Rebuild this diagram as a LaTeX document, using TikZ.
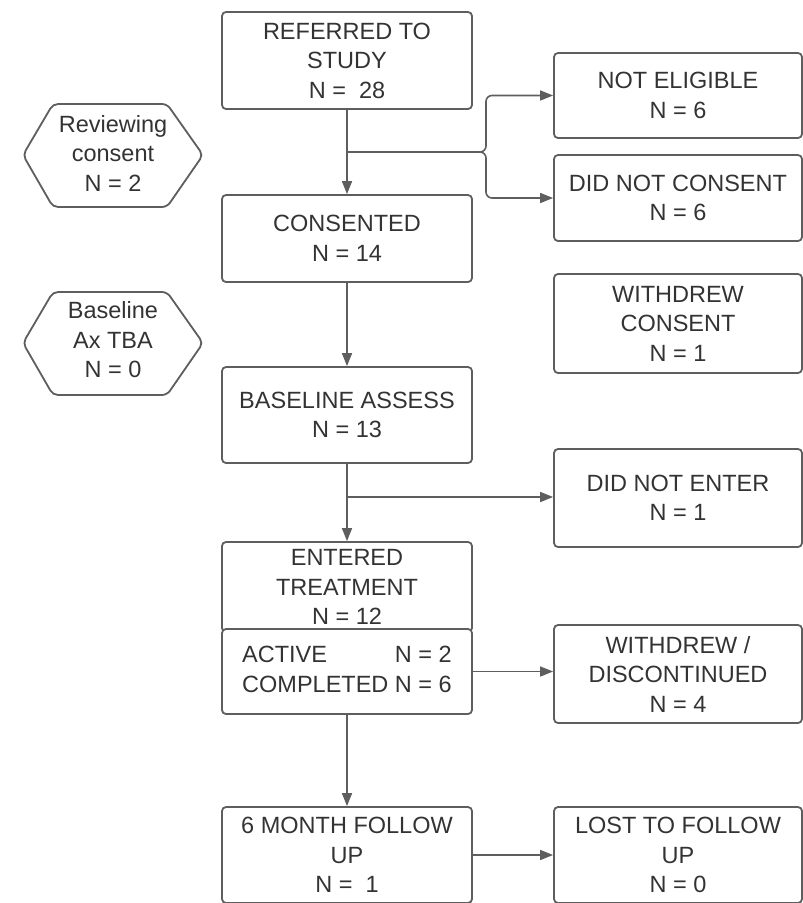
\documentclass[tikz,border=0pt]{standalone}
\usepackage{fontspec}
\setmainfont{Liberation Sans}
\usetikzlibrary{arrows.meta}
\definecolor{linegray}{HTML}{5E5E5E}
\definecolor{textgray}{HTML}{333333}
\tikzset{
  box/.style={draw=linegray, line width=1.8pt, rounded corners=4pt, fill=white,
    minimum width=250pt, align=center, inner sep=0pt, text=textgray,
    font=\fontsize{23.5}{29.5}\selectfont},
  sidebox/.style={box, minimum width=248pt},
  hexshape/.style={draw=linegray, line width=1.8pt, rounded corners=5pt},
  hextext/.style={align=center, inner sep=0pt, text=textgray,
    font=\fontsize{23.5}{29.5}\selectfont},
  conn/.style={draw=linegray, line width=1.6pt},
  arr/.style={conn, -{Triangle[length=13pt,width=10pt]}}
}
\begin{document}
\begin{tikzpicture}[x=1pt,y=-1pt]
\useasboundingbox (0,0) rectangle (803,903);
% main column
\node[box, minimum height=97pt] (ref) at (347,60.5) {REFERRED TO\\STUDY\\N =\ \ 28};
\node[box, minimum height=87pt] (cons) at (347,238.5) {CONSENTED\\N = 14};
\node[box, minimum height=96pt] (base) at (347,415) {BASELINE ASSESS\\N = 13};
\node[box, minimum height=90pt] (ent) at (347,587) {ENTERED\\TREATMENT\\N = 12};
\node[box, minimum height=85pt] (act) at (347,671.5) {%
  \begin{tabular}{@{}l@{\ }r@{}}ACTIVE & N = 2\\COMPLETED & N = 6\end{tabular}};
\node[box, minimum height=96pt] (fu) at (347,855) {6 MONTH FOLLOW\\UP\\N =\ \ 1};
% right column
\node[sidebox, minimum height=85pt] (ne) at (678,95.5) {NOT ELIGIBLE\\N = 6};
\node[sidebox, minimum height=86pt] (dnc) at (678,198) {DID NOT CONSENT\\N = 6};
\node[sidebox, minimum height=99pt] (wc) at (678,323.5) {WITHDREW\\CONSENT\\N = 1};
\node[sidebox, minimum height=98pt] (dne) at (678,498) {DID NOT ENTER\\N = 1};
\node[sidebox, minimum height=98pt] (wd) at (678,674) {WITHDREW /\\DISCONTINUED\\N = 4};
\node[sidebox, minimum height=96pt] (lost) at (678,855) {LOST TO FOLLOW\\UP\\N = 0};
% hexagons
\draw[hexshape] (23,155) -- (53,104) -- (167,104) -- (203,155) -- (167,207) -- (53,207) -- cycle;
\node[hextext] (rev) at (113,153) {Reviewing\\consent\\N = 2};
\draw[hexshape] (23,343) -- (53,292) -- (167,292) -- (203,343) -- (167,395) -- (53,395) -- cycle;
\node[hextext] (bax) at (113,340) {Baseline\\Ax TBA\\N = 0};
% connectors
\coordinate (b1) at (347,152);
\coordinate (j1) at (486,152);
\draw[arr] (ref.south) -- (cons.north);
\draw[arr, rounded corners=6pt] (b1) -- (j1) |- (ne.west);
\draw[arr, rounded corners=6pt] (b1) -- (j1) |- (dnc.west);
\draw[arr] (cons.south) -- (base.north);
\coordinate (b2) at (347,497);
\draw[arr] (base.south) -- (ent.north);
\draw[arr] (b2) -- (b2 -| dne.west);
\draw[arr] (act.east) -- (act.east -| wd.west);
\draw[arr] (act.south) -- (fu.north);
\draw[arr] (fu.east) -- (fu.east -| lost.west);
\end{tikzpicture}
\end{document}
